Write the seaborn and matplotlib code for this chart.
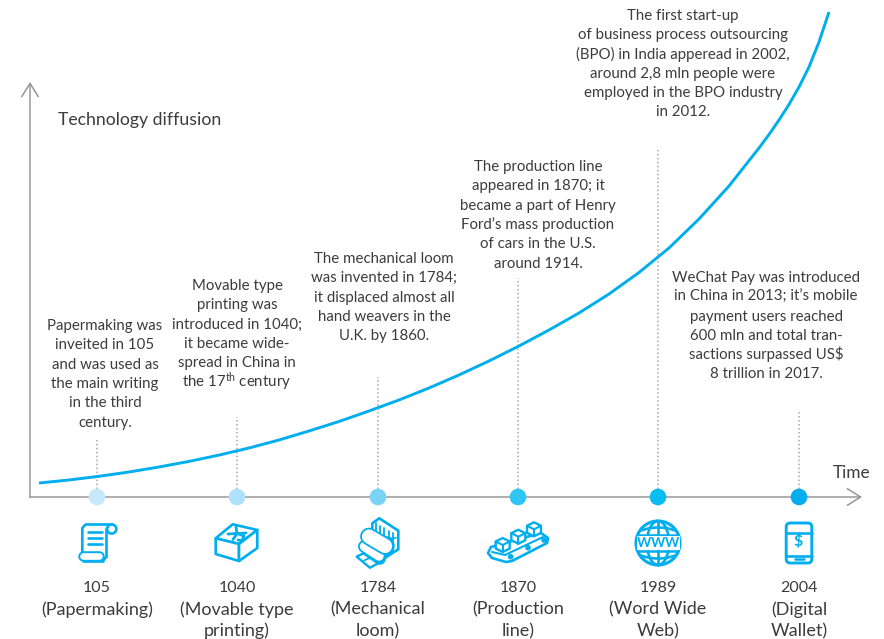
import numpy as np
import pandas as pd
import matplotlib
matplotlib.use("Agg")
import matplotlib.pyplot as plt
from matplotlib.patches import Ellipse, FancyBboxPatch, Polygon
import seaborn as sns

sns.set_theme(style="white")
plt.rcParams["font.family"] = ["Lato", "DejaVu Sans"]
plt.rcParams["mathtext.default"] = "regular"

INK = "#3c3c3e"
BLUE = "#00aeef"
AXIS = "#939393"
STEM = "#a6a6a6"

# Diffusion curve: position along the timeline / height above the time axis
curve_x = [39, 69, 99, 129, 159, 189, 219, 249, 279, 309, 339, 369, 399, 429, 459,
           489, 519, 549, 579, 609, 639, 669, 699, 729, 759, 769, 779, 789, 799,
           809, 819, 829]
curve_y = [14, 17, 20.7, 25, 30, 35.6, 41.9, 49, 57, 66, 75.5, 86, 97, 109, 122,
           136, 151, 167, 184, 203, 224.5, 249, 278, 311, 349, 362.5, 377, 392.5, 410,
           430, 455, 485]

# Timeline events
event_x = [97, 237, 378, 518, 658, 799]
stem_top = [59, 80, 120, 219, 347, 87]
event_colors = ["#c5e9fb", "#aee2fc", "#7bd2f7", "#2fc6f5", "#09bcf1", "#00aeef"]
event_years = ["105", "1040", "1784", "1870", "1989", "2004"]
event_names = [["(Papermaking)"], ["(Movable type", "printing)"], ["(Mechanical", "loom)"],
               ["(Production", "line)"], ["(Word Wide", "Web)"], ["(Digital", "Wallet)"]]

# Captions above the curve, one entry per printed line
note_lines = [
    ["Papermaking was", "inveited in 105", "and was used as", "the main writing",
     "in the third", "century."],
    ["Movable type", "printing was", "introduced in 1040;", "it became wide-",
     "spread in China in", "the 17$^{th}$ century"],
    ["The mechanical loom", "was invented in 1784;", "it displaced almost all",
     "hand weavers in the", "U.K. by 1860."],
    ["The production line", "appeared in 1870; it", "became a part of Henry",
     "Ford\u2019s mass production", "of cars in the U.S.", "around 1914."],
    ["The first start-up", "of business process outsourcing", "(BPO) in India apperead in 2002,",
     "around 2,8 mln people were", "employed in the BPO industry", "in 2012."],
    ["WeChat Pay was introduced", "in China in 2013; it\u2019s mobile", "payment users reached",
     "600 mln and total tran-", r"sactions surpassed US\$", "8 trillion in 2017."],
]
note_x = [105, 237, 384, 538, 683, 766]
note_first_baseline = [167, 207, 234, 326, 477, 215]

fig = plt.figure(figsize=(8.84, 6.39), dpi=100, facecolor="white")
ax = fig.add_axes([0, 0, 1, 1])

# Axes with open arrow heads
arrow = dict(arrowstyle="->,head_length=0.8,head_width=0.5", color=AXIS, lw=1.05, shrinkA=0, shrinkB=0)
ax.annotate("", xy=(862, 0), xytext=(30, 0), arrowprops=arrow)
ax.annotate("", xy=(30, 415), xytext=(30, -0.6), arrowprops=arrow)

# Dotted stems rising from each event
ax.vlines(event_x, 0, stem_top, color=STEM, lw=1.1, linestyles=(0, (1, 1.6)), zorder=1)

curve = pd.DataFrame({"position": curve_x, "diffusion": curve_y})
sns.lineplot(data=curve, x="position", y="diffusion", color=BLUE, lw=2.1, ax=ax,
             legend=False, zorder=3, solid_capstyle="butt")

events = pd.DataFrame({"position": event_x, "level": [0] * 6, "year": event_years})
sns.scatterplot(data=events, x="position", y="level", hue="year", palette=event_colors,
                s=144, linewidth=0, legend=False, ax=ax, zorder=4, clip_on=False)

ax.set_xlim(0, 884)
ax.set_ylim(-142, 497)
ax.axis("off")

BODY = 10.85
STEP = 19.3
for lines, x, base in zip(note_lines, note_x, note_first_baseline):
    for i, text in enumerate(lines):
        ax.text(x, base - i * STEP, text, ha="center", va="baseline", fontsize=BODY, color=INK)

ax.text(58, 372, "Technology diffusion", ha="left", va="baseline", fontsize=12.7, color=INK)
ax.text(833, 19, "Time", ha="left", va="baseline", fontsize=12.4, color=INK)

for x, year, name in zip(event_x, event_years, event_names):
    ax.text(x, -95, year, ha="center", va="baseline", fontsize=11.5, color=INK)
    for i, text in enumerate(name):
        ax.text(x, -117.5 - i * 21.5, text, ha="center", va="baseline", fontsize=13.0, color=INK)


# Pictograms live on a pixel-like overlay whose y runs downwards
ov = fig.add_axes([0, 0, 1, 1])
ov.set_xlim(0, 884)
ov.set_ylim(639, 0)
ov.axis("off")
ov.patch.set_alpha(0)
CY = 543


def line(pts, cx, lw=1.9):
    a = np.asarray(pts, dtype=float)
    ov.plot(a[:, 0] + cx, a[:, 1] + CY, color=BLUE, lw=lw, solid_capstyle="round",
            solid_joinstyle="round")


def ring(x, y, rx, ry=None, cx=0, lw=1.9, fill="white"):
    ry = rx if ry is None else ry
    ov.add_patch(Ellipse((x + cx, y + CY), 2 * rx, 2 * ry, fc=fill, ec=BLUE, lw=lw))


def panel(pts, cx, lw=1.9, fill="white"):
    a = np.asarray(pts, dtype=float) + [cx, CY]
    ov.add_patch(Polygon(a, closed=True, fc=fill, ec=BLUE, lw=lw, joinstyle="round"))


def tube(p0, p1, cx, outer, inner):
    xs = [p0[0] + cx, p1[0] + cx]
    ys = [p0[1] + CY, p1[1] + CY]
    ov.plot(xs, ys, color=BLUE, lw=outer, solid_capstyle="round")
    ov.plot(xs, ys, color="white", lw=inner, solid_capstyle="round")


def scroll(cx):
    ring(14.7, -14, 4.6, cx=cx)
    line([(-14.7, 9), (-14.7, -15), (-11.5, -18.5), (14.7, -18.5)], cx)
    line([(9.5, -14), (9.5, 14), (6, 17.5)], cx)
    tube((-14.5, 13.4), (2, 13.4), cx, 7.6, 4.8)
    line([(-14.5, 17.5), (6, 17.5)], cx)
    for y in (-10.7, -4.7, 1.3):
        line([(-8.7, y), (4.7, y)], cx)


def type_block(cx):
    panel([(-21.3, -4.7), (-4.3, -18.7), (20.3, -13), (2, 1)], cx)
    panel([(-21.3, -4.7), (2, 1), (2, 18), (-21.3, 11)], cx)
    panel([(2, 1), (20.3, -13), (20.3, 5), (2, 18)], cx)
    # carved character on the top face
    line([(-9, -9), (9, -10)], cx, lw=2.0)
    line([(-1, -16), (0, -9.5), (-4, -3.5)], cx, lw=2.0)
    line([(0, -9.5), (7, -7), (5, -2.5), (1, -3)], cx, lw=2.0)


def loom(cx):
    panel([(-5.7, -19.7), (1.3, -24.7), (20.3, -12.3), (20.3, 6.3), (3.7, 17), (-5.7, 8)], cx)
    for k in range(5):
        dx = -2 + k * 4.2
        line([(dx, -20 + k * 2.6), (dx, -10 + k * 2.6)], cx, lw=1.3)
    line([(-5.7, -9.7), (3, -4), (18, -5)], cx, lw=1.2)
    # apron, lower roller, upper roller
    panel([(-21.3, 13.7), (-14.7, 10.3), (0, 20.3), (-8, 24.8)], cx, lw=1.7)
    line([(-14, 17.5), (-6, 14)], cx, lw=1.3)
    tube((-13.5, 3.5), (1, 13), cx, 9.4, 6.8)
    ring(2, 14.3, 5, 6.2, cx=cx, lw=1.8)
    ring(2, 14.3, 1.9, cx=cx, lw=0, fill=BLUE)
    tube((-9, -6.5), (7, 3), cx, 12.8, 10.2)
    ring(8.7, 3, 6.7, 8.5, cx=cx, lw=1.9)
    ring(8.7, 3, 2.9, cx=cx, lw=0, fill=BLUE)


def conveyor(cx):
    panel([(-30, 10), (-27, 4), (23, -10), (30, -5), (29, 0), (-6, 18), (-12, 19), (-26, 15)], cx, lw=1.9)
    line([(-26, 9), (-13, 12), (25, -6)], cx, lw=1.5)
    for dx, dy in ((-7.3, 13.7), (10, 4.7), (26, -3)):
        ring(dx, dy, 2.8, cx=cx, lw=0, fill=BLUE)
    for dx, dy in ((-15.3, 2), (0.3, -6.3), (16, -13.7)):
        panel([(dx - 7, dy - 3.5), (dx, dy - 7), (dx + 7, dy - 3.5), (dx + 7, dy + 3.5),
               (dx, dy + 7), (dx - 7, dy + 3.5)], cx, lw=1.7)
        line([(dx - 7, dy - 3.5), (dx, dy), (dx + 7, dy - 3.5)], cx, lw=1.5)
        line([(dx, dy), (dx, dy + 7)], cx, lw=1.5)


def globe(cx):
    ring(0, 0, 22, cx=cx, lw=2.2)
    ring(0, 0, 11, 22, cx=cx, lw=1.9, fill="none")
    line([(0, -22), (0, 22)], cx)
    t = np.linspace(-1, 1, 30)
    for sign in (-1, 1):
        ov.plot(cx + 17 * t, CY + sign * (15.5 - 3 * t ** 2), color=BLUE, lw=1.9)
    ov.add_patch(FancyBboxPatch((cx - 21.5, CY - 7), 43, 14, boxstyle="square,pad=0",
                                fc="white", ec="none", zorder=3))
    line([(-20, -8), (20, -8)], cx, lw=1.8)
    line([(-20, 8), (20, 8)], cx, lw=1.8)
    for dx in (-14, 0, 14):
        ov.text(cx + dx, CY + 0.3, "W", ha="center", va="center", fontsize=9.8, fontweight="bold",
                color=BLUE, zorder=4)


def wallet(cx):
    ov.add_patch(FancyBboxPatch((cx - 12.8, 523), 25.6, 40, boxstyle="round,pad=0,rounding_size=4",
                                fc="white", ec=BLUE, lw=2.1))
    line([(-12.8, -10.3), (12.8, -10.3)], cx)
    line([(-12.8, 12.7), (12.8, 12.7)], cx)
    line([(-4, 15.7), (4.5, 15.7)], cx, lw=1.8)
    ov.text(cx - 0.5, 541.7, r"\$", ha="center", va="center", fontsize=11.5, fontweight="bold", color=BLUE)


for draw, x in zip((scroll, type_block, loom, conveyor, globe, wallet), event_x):
    draw(x)

fig.savefig("out.png", dpi=100)
